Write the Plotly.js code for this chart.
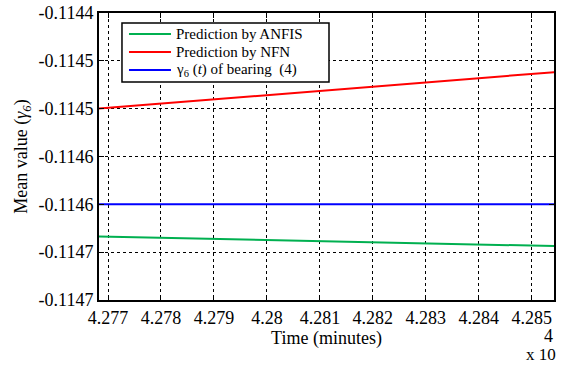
<!DOCTYPE html>
<html><head><meta charset="utf-8">
<script src="https://cdn.plot.ly/plotly-3.0.1.min.js"></script>
<style>html,body{margin:0;padding:0;background:#fff}#chart{width:561px;height:365px}</style>
</head><body><div id="chart"></div>
<script>
// Time in minutes
const timeMinutes = [42768, 42855];
const anfisPred = [-0.1146337, -0.1146437];
const nfnPred = [-0.1145, -0.1144615];
const gammaBearing4 = [-0.1146, -0.1146];
const xTickVals = [42770, 42780, 42790, 42800, 42810, 42820, 42830, 42840, 42850];
const xTickText = ['4.277','4.278','4.279','4.28','4.281','4.282','4.283','4.284','4.285'];
const yTickVals = [-0.1144, -0.11445, -0.1145, -0.11455, -0.1146, -0.11465, -0.1147];
const yTickText = ['-0.1144','-0.1145','-0.1145','-0.1146','-0.1146','-0.1147','-0.1147'];
const seriesNames = ['Prediction by ANFIS', 'Prediction by NFN', 'γ<sub>6</sub> (<i>t</i>) of bearing  (4)'];
const seriesColors = ['rgb(0,176,80)', '#ff0000', '#0000ff'];

const font = 'Liberation Serif';
const traces = [
  {x: timeMinutes, y: anfisPred, name: seriesNames[0], mode: 'lines', line: {color: seriesColors[0], width: 2}},
  {x: timeMinutes, y: nfnPred, name: seriesNames[1], mode: 'lines', line: {color: seriesColors[1], width: 2}},
  {x: timeMinutes, y: gammaBearing4, name: seriesNames[2], mode: 'lines', line: {color: seriesColors[2], width: 2}}
];
function axisCommon() {
  return {
    showline: true, linecolor: '#000', linewidth: 2, mirror: 'ticks',
    ticks: 'inside', ticklen: 5, tickcolor: '#000', tickwidth: 1,
    showgrid: true, gridcolor: '#000', griddash: 'dot', gridwidth: 1,
    zeroline: false, tickfont: {family: font, size: 18, color: '#000'}
  };
}
// manual legend (paper coordinates)
const legX0 = 0.0505, legX1 = 0.5055, legY0 = 0.7596, legY1 = 0.9652;
const sampleX0 = 0.0659, sampleX1 = 0.1582, textX = 0.167;
const rowY = [0.9268, 0.8641, 0.8014];
const shapes = [
  {type: 'rect', xref: 'paper', yref: 'paper', x0: legX0, x1: legX1, y0: legY0, y1: legY1,
   fillcolor: '#fff', line: {color: '#000', width: 1.5}, layer: 'above'}
];
const annotations = [];
seriesNames.forEach((n, i) => {
  shapes.push({type: 'line', xref: 'paper', yref: 'paper', x0: sampleX0, x1: sampleX1, y0: rowY[i], y1: rowY[i],
    line: {color: seriesColors[i], width: 2}, layer: 'above'});
  annotations.push({xref: 'paper', yref: 'paper', x: textX, y: rowY[i], xanchor: 'left', yanchor: 'middle',
    text: n, showarrow: false, borderpad: 0, font: {family: font, size: 15, color: '#000'}});
});
annotations.push(
  {xref: 'paper', yref: 'paper', x: 1.0, y: -0.1254, xanchor: 'right', yanchor: 'middle', text: '4', showarrow: false, borderpad: 0, font: {family: font, size: 18, color: '#000'}},
  {xref: 'paper', yref: 'paper', x: 1.0075, y: -0.1882, xanchor: 'right', yanchor: 'middle', text: 'x 10', showarrow: false, borderpad: 0, font: {family: font, size: 17, color: '#000'}}
);
const layout = {
  width: 561, height: 365,
  font: {family: font, size: 18, color: '#000'},
  margin: {l: 99, r: 7, t: 13, b: 65},
  paper_bgcolor: '#fff', plot_bgcolor: '#fff',
  showlegend: false,
  xaxis: Object.assign(axisCommon(), {
    range: [42768.3, 42854.2], tickmode: 'array', tickvals: xTickVals, ticktext: xTickText,
    title: {text: 'Time (minutes)', font: {family: font, size: 18, color: '#000'}, standoff: 3}
  }),
  yaxis: Object.assign(axisCommon(), {
    range: [-0.1147, -0.1144], tickmode: 'array', tickvals: yTickVals, ticktext: yTickText,
    title: {text: 'Mean value (<i>γ<sub>6</sub></i>)', font: {family: font, size: 18, color: '#000'}, standoff: 6}
  }),
  shapes: shapes,
  annotations: annotations
};
Plotly.newPlot('chart', traces, layout, {displayModeBar: false, staticPlot: true});
</script></body></html>
